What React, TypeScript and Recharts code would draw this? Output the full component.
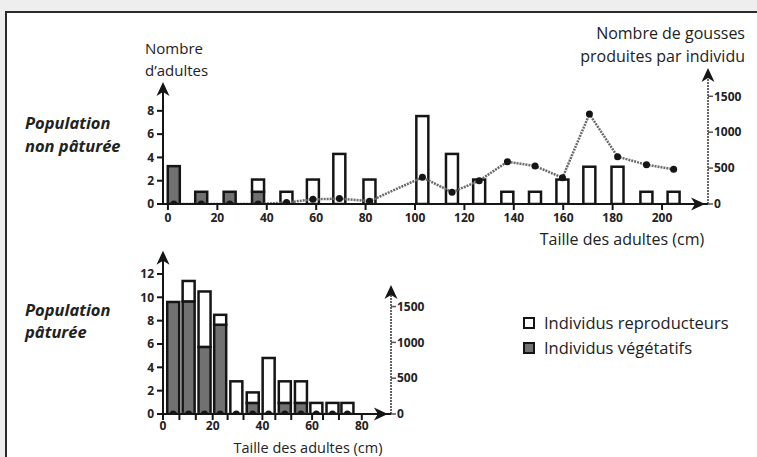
import {
    Bar,
    ComposedChart,
    Line,
    ReferenceDot,
    ReferenceLine,
    XAxis,
    YAxis,
} from "recharts";

// Population non pâturée
const tailleNP = [2.4, 13.5, 25, 36.5, 48, 58.7, 69.4, 81.6, 103, 115, 126, 137.4, 148.6, 159.7, 170.6, 182, 193.7, 204.7];
const vegetatifsNP = [3.25, 1.05, 1.05, 1.05, 0, 0, 0, 0, 0, 0, 0, 0, 0, 0, 0, 0, 0, 0];
const reproducteursNP = [0, 0, 0, 1.05, 1.05, 2.1, 4.3, 2.1, 7.55, 4.3, 2.1, 1.05, 1.05, 2.1, 3.2, 3.2, 1.05, 1.05];
const goussesNP = [0, 0, 0, 0, 20, 65, 75, 40, 372, 163, 325, 589, 529, 366, 1253, 659, 547, 483];

// Population pâturée
const tailleP = [4.1, 10.3, 16.7, 23, 29.5, 36.1, 42.5, 49, 55.5, 61.7, 68.2, 74.2];
const vegetatifsP = [9.6, 9.65, 5.75, 7.65, 0, 0.95, 0, 0.95, 0.95, 0, 0, 0];
const reproducteursP = [0, 1.75, 4.75, 0.85, 2.8, 0.9, 4.8, 1.85, 1.85, 0.95, 0.95, 0.95];
const goussesP = [0, 0, 0, 0, 0, 0, 0, 0, 0, 0, 0, 0];

const ticksAdultesNP = [0, 2, 4, 6, 8];
const ticksAdultesP = [0, 2, 4, 6, 8, 10, 12];
const ticksGousses = [0, 500, 1000, 1500];
const ticksTailleNP = [0, 20, 40, 60, 80, 100, 120, 140, 160, 180, 200];
const ticksTailleP = [0, 6.6, 13.2, 20, 26, 32.4, 40, 45.2, 51.6, 60, 64.4, 70.8, 80];

const FONT = "'Open Sans', 'DejaVu Sans', sans-serif";
const GRIS = "#717171";
const NOIR = "#151515";

const rowsNP = tailleNP.map((x, i) => ({
    x,
    veg: vegetatifsNP[i],
    rep: reproducteursNP[i],
    gousses: goussesNP[i],
}));
const rowsP = tailleP.map((x, i) => ({
    x,
    veg: vegetatifsP[i],
    rep: reproducteursP[i],
    gousses: goussesP[i],
}));

function BarShape(props: any) {
    const { x, y, width, height, fill } = props;
    if (!height || Math.abs(height) < 0.5) return <g />;
    const cx = x + width / 2;
    const top = height < 0 ? y + height : y;
    return (
        <rect
            x={cx - 6}
            y={top}
            width={12}
            height={Math.abs(height)}
            fill={fill}
            stroke={NOIR}
            strokeWidth={2.5}
        />
    );
}

const ArrowUp = (p: any) => (
    <path
        d={`M${p.cx},${p.cy} L${p.cx + 6.5},${p.cy + 14} L${p.cx},${p.cy + 10} L${p.cx - 6.5},${p.cy + 14} Z`}
        fill={NOIR}
    />
);
const ArrowRight = (p: any) => (
    <path
        d={`M${p.cx},${p.cy} L${p.cx - 14},${p.cy - 6.5} L${p.cx - 10},${p.cy} L${p.cx - 14},${p.cy + 6.5} Z`}
        fill={NOIR}
    />
);

const tickStyle = { fill: "#222", fontSize: 12, fontWeight: 700, fontFamily: FONT };

function Panel({
    rows,
    width,
    height,
    margin,
    xDomain,
    xTicks,
    xFormat,
    xTickMargin,
    xArrow,
    leftMax,
    leftTicks,
    leftArrow,
    rightMax,
    rightArrow,
}: any) {
    return (
        <ComposedChart width={width} height={height} data={rows} margin={margin}>
            <XAxis
                dataKey="x"
                type="number"
                domain={xDomain}
                ticks={xTicks}
                interval={0}
                allowDataOverflow
                tickFormatter={xFormat}
                height={30}
                tickSize={6}
                tickMargin={xTickMargin}
                tick={tickStyle}
                axisLine={{ stroke: NOIR, strokeWidth: 2 }}
                tickLine={{ stroke: NOIR, strokeWidth: 2 }}
            />
            <YAxis
                yAxisId="left"
                domain={[0, leftMax]}
                ticks={leftTicks}
                interval={0}
                allowDataOverflow
                width={30}
                tickSize={6}
                tickMargin={3}
                tick={tickStyle}
                axisLine={false}
                tickLine={{ stroke: NOIR, strokeWidth: 2 }}
            />
            <YAxis
                yAxisId="right"
                orientation="right"
                domain={[0, rightMax]}
                ticks={ticksGousses}
                interval={0}
                allowDataOverflow
                width={45}
                tickSize={5}
                tickMargin={1}
                tick={tickStyle}
                axisLine={false}
                tickLine={{ stroke: "#555", strokeWidth: 1.5 }}
            />
            <Bar
                yAxisId="left"
                dataKey="veg"
                stackId="a"
                fill={GRIS}
                shape={BarShape}
                isAnimationActive={false}
            />
            <Bar
                yAxisId="left"
                dataKey="rep"
                stackId="a"
                fill="#ffffff"
                shape={BarShape}
                isAnimationActive={false}
            />
            <Line
                yAxisId="right"
                dataKey="gousses"
                type="linear"
                stroke="#6b6b6b"
                strokeWidth={2.5}
                strokeDasharray="2 1"
                dot={{ r: 3.5, fill: NOIR, stroke: NOIR, strokeWidth: 0 }}
                isAnimationActive={false}
            />
            {/* axe gauche */}
            <ReferenceLine
                yAxisId="left"
                segment={[
                    { x: xDomain[0], y: 0 },
                    { x: xDomain[0], y: leftArrow - 0.3 },
                ]}
                stroke={NOIR}
                strokeWidth={2}
                ifOverflow="visible"
            />
            <ReferenceDot
                yAxisId="left"
                x={xDomain[0]}
                y={leftArrow}
                shape={ArrowUp}
                ifOverflow="visible"
            />
            {/* axe droit */}
            <ReferenceLine
                yAxisId="right"
                segment={[
                    { x: xDomain[1], y: 0 },
                    { x: xDomain[1], y: rightArrow * 0.97 },
                ]}
                stroke="#666"
                strokeWidth={2}
                strokeDasharray="2 1"
                ifOverflow="visible"
            />
            <ReferenceDot
                yAxisId="right"
                x={xDomain[1]}
                y={rightArrow}
                shape={ArrowUp}
                ifOverflow="visible"
            />
            <ReferenceDot
                yAxisId="left"
                x={xArrow}
                y={0}
                shape={ArrowRight}
                ifOverflow="visible"
            />
        </ComposedChart>
    );
}

export default function App() {
    return (
        <div
            style={{
                position: "absolute",
                left: 0,
                top: 0,
                width: 757,
                height: 457,
                overflow: "hidden",
                background: "#eeeeee",
            }}
        >
            <div
                style={{
                    position: "absolute",
                    left: 5,
                    top: 11,
                    width: 800,
                    height: 500,
                    border: "2px solid #2a2a2a",
                    background: "#ffffff",
                }}
            />
            <div style={{ position: "absolute", left: 0, top: 0 }}>
                <Panel
                    rows={rowsNP}
                    width={757}
                    height={260}
                    margin={{ top: 66, left: 133, right: 4, bottom: 26 }}
                    xDomain={[-2, 218.6]}
                    xTicks={ticksTailleNP}
                    xFormat={(v: number) => String(v)}
                    xTickMargin={3}
                    xArrow={217.4}
                    leftMax={11.85}
                    leftTicks={ticksAdultesNP}
                    leftArrow={10.47}
                    rightMax={1922}
                    rightArrow={1894}
                />
            </div>
            <div style={{ position: "absolute", left: 0, top: 0 }}>
                <Panel
                    rows={rowsP}
                    width={757}
                    height={457}
                    margin={{ top: 249, left: 133, right: 321, bottom: 13 }}
                    xDomain={[0, 91.75]}
                    xTicks={ticksTailleP}
                    xFormat={(v: number) => (v % 20 === 0 ? String(v) : "")}
                    xTickMargin={1}
                    xArrow={90.5}
                    leftMax={14.14}
                    leftTicks={ticksAdultesP}
                    leftArrow={14.0}
                    rightMax={2304}
                    rightArrow={1802}
                />
            </div>
            <svg
                width={757}
                height={457}
                style={{ position: "absolute", left: 0, top: 0, pointerEvents: "none" }}
                fontFamily={FONT}
                fill="#222"
            >
                <text x={145} y={54} fontSize={15}>Nombre</text>
                <text x={145} y={76} fontSize={15}>d’adultes</text>
                <text x={745} y={39} fontSize={16} textAnchor="end">Nombre de gousses</text>
                <text x={745} y={62} fontSize={16} textAnchor="end">produites par individu</text>
                <text x={622} y={245} fontSize={16} textAnchor="middle">Taille des adultes (cm)</text>
                <text x={308} y={452.5} fontSize={14.5} textAnchor="middle">Taille des adultes (cm)</text>
                <text x={25} y={129} fontSize={16.5} fontWeight={700} fontStyle="italic">Population</text>
                <text x={25} y={152} fontSize={16.5} fontWeight={700} fontStyle="italic">non pâturée</text>
                <text x={25} y={316} fontSize={16.5} fontWeight={700} fontStyle="italic">Population</text>
                <text x={25} y={338} fontSize={16.5} fontWeight={700} fontStyle="italic">pâturée</text>
                <rect x={524} y={318} width={10} height={10} fill="#fff" stroke={NOIR} strokeWidth={2} />
                <rect x={524} y={343} width={10} height={10} fill={GRIS} stroke={NOIR} strokeWidth={2} />
                <text x={544} y={328.5} fontSize={16.5}>Individus reproducteurs</text>
                <text x={544} y={353.5} fontSize={16.5}>Individus végétatifs</text>
            </svg>
        </div>
    );
}
